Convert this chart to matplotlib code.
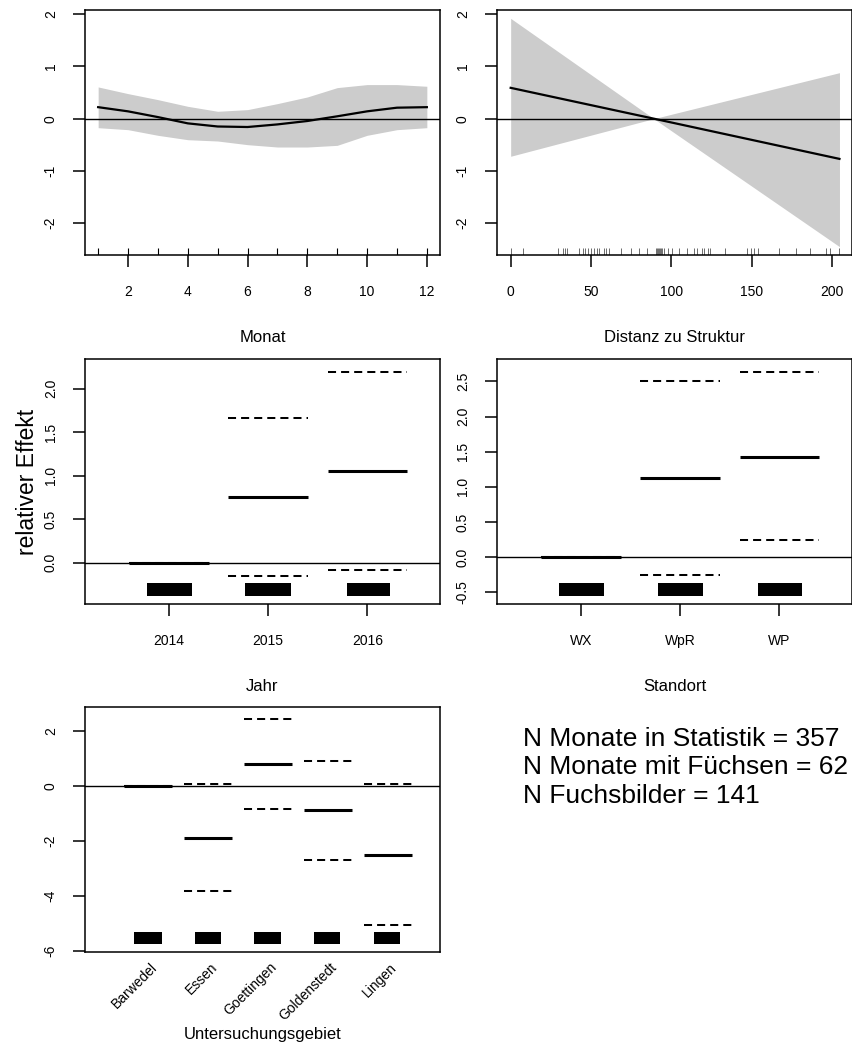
import numpy as np
import matplotlib.pyplot as plt
from matplotlib import transforms

plt.rcParams['font.family'] = ['Liberation Sans', 'DejaVu Sans']
plt.rcParams['axes.unicode_minus'] = False

# --- Monat (smooth term) ---
monat = [1, 2, 3, 4, 5, 6, 7, 8, 9, 10, 11, 12]
monat_fit = [0.22, 0.14, 0.03, -0.09, -0.15, -0.16, -0.11, -0.045, 0.045, 0.14, 0.21, 0.22]
monat_hi = [0.607, 0.479, 0.364, 0.236, 0.141, 0.173, 0.288, 0.415, 0.594, 0.652, 0.652, 0.620]
monat_lo = [-0.173, -0.211, -0.319, -0.403, -0.428, -0.498, -0.543, -0.543, -0.511, -0.319, -0.211, -0.173]

# --- Distanz zu Struktur (linear term) ---
dist_x = [0, 89, 204.5]
dist_fit = [0.59, 0.0, -0.77]
dist_hi = [1.92, 0.0, 0.88]
dist_lo = [-0.72, 0.0, -2.45]
dist_rug = [0, 7.9, 29.2, 32.3, 33.6, 34.8, 42.7, 44.8, 46.4, 48.3, 50.2, 51.8, 53.5,
            55.1, 58.0, 59.5, 61.2, 68.4, 74.6, 79.8, 85.0, 90.2, 90.8, 91.4, 92.0,
            92.7, 93.5, 94.3, 95.6, 98.1, 100.5, 104.7, 109.9, 114.0, 115.7, 118.8,
            120.4, 122.5, 124.0, 133.1, 147.2, 149.7, 151.3, 153.8, 167.1, 177.4,
            186.2, 196.1, 198.6, 204.4]

# --- Jahr (factor) ---
jahr = ['2014', '2015', '2016']
jahr_fit = [0.0, 0.754, 1.05]
jahr_hi = [0.0, 1.658, 2.188]
jahr_lo = [0.0, -0.146, -0.077]
jahr_rug = [
    [-0.2, -0.175, -0.15, -0.125, -0.1, -0.075, -0.05, -0.025, 0.0, 0.025, 0.05, 0.075, 0.1, 0.125, 0.15, 0.175, 0.2],
    [-0.21, -0.165, -0.14, -0.115, -0.09, -0.065, -0.04, -0.015, 0.01, 0.035, 0.06, 0.085, 0.11, 0.135, 0.16, 0.185, 0.2],
    [-0.19, -0.165, -0.14, -0.115, -0.09, -0.055, -0.03, -0.005, 0.03, 0.055, 0.08, 0.11, 0.135, 0.17, 0.195],
]

# --- Standort (factor) ---
standort = ['WX', 'WpR', 'WP']
standort_fit = [0.0, 1.129, 1.429]
standort_hi = [0.0, 2.514, 2.638]
standort_lo = [0.0, -0.252, 0.238]
standort_rug = [
    [-0.2, -0.175, -0.15, -0.125, -0.1, -0.075, -0.05, -0.025, 0.0, 0.025, 0.05, 0.075, 0.1, 0.125, 0.15, 0.175, 0.2],
    [-0.2, -0.175, -0.15, -0.125, -0.1, -0.075, -0.05, -0.025, 0.0, 0.025, 0.05, 0.075, 0.1, 0.125, 0.15, 0.175, 0.2],
    [-0.2, -0.175, -0.15, -0.125, -0.1, -0.075, -0.05, -0.025, 0.0, 0.025, 0.05, 0.075, 0.1, 0.125, 0.15, 0.175, 0.2],
]

# --- Untersuchungsgebiet (factor) ---
gebiet = ['Barwedel', 'Essen', 'Goettingen', 'Goldenstedt', 'Lingen']
gebiet_fit = [0.0, -1.879, 0.812, -0.885, -2.509]
gebiet_hi = [0.0, 0.085, 2.424, 0.921, 0.06]
gebiet_lo = [0.0, -3.818, -0.836, -2.703, -5.067]
gebiet_rug = [
    [-0.2, -0.175, -0.15, -0.125, -0.1, -0.075, -0.05, -0.03, 0.0, 0.025, 0.045, 0.075, 0.1, 0.125, 0.15, 0.175, 0.2],
    [-0.19, -0.165, -0.14, -0.115, -0.09, -0.065, -0.04, -0.015, 0.01, 0.035, 0.06, 0.085, 0.11, 0.135, 0.16, 0.185],
    [-0.2, -0.175, -0.15, -0.125, -0.1, -0.075, -0.05, -0.025, 0.0, 0.025, 0.05, 0.075, 0.1, 0.125, 0.15, 0.175, 0.19],
    [-0.2, -0.175, -0.15, -0.125, -0.1, -0.075, -0.05, -0.025, 0.0, 0.025, 0.05, 0.075, 0.1, 0.135, 0.16, 0.175],
    [-0.19, -0.165, -0.14, -0.115, -0.09, -0.065, -0.04, -0.015, 0.01, 0.035, 0.06, 0.085, 0.11, 0.135, 0.16, 0.175],
]

stats_lines = ['N Monate in Statistik = 357', 'N Monate mit Füchsen = 62', 'N Fuchsbilder = 141']

W, H = 852, 1045
fig = plt.figure(figsize=(W / 100, H / 100), dpi=100)


def make_ax(left, top, width=355, height=245):
    return fig.add_axes([left / W, 1 - (top + height) / H, width / W, height / H])


def style(ax, xlabel):
    for s in ax.spines.values():
        s.set_linewidth(1.1)
    ax.tick_params(axis='both', length=8.6, width=1.1, labelsize=10)
    ax.tick_params(axis='x', pad=13)
    ax.tick_params(axis='y', pad=11, labelrotation=90)
    for t in ax.get_yticklabels():
        t.set_va('center')
    ax.text(0.5, -82 / 245, xlabel, transform=ax.transAxes, ha='center', va='center', fontsize=12)


dash = (0, (4, 2.5))


def factor_panel(ax, levels, fit, hi, lo, rugs, rug_y, xlim, ylim, yticks, xlabel, rotate=False):
    pos = np.arange(1, len(levels) + 1)
    ax.set_xlim(*xlim)
    ax.set_ylim(*ylim)
    ax.axhline(0, color='black', lw=1.0)
    for p, h, l in zip(pos, hi, lo):
        ax.plot([p - 0.4, p + 0.4], [h, h], color='black', lw=1.45, linestyle=dash, dash_capstyle='butt')
        ax.plot([p - 0.4, p + 0.4], [l, l], color='black', lw=1.45, linestyle=dash, dash_capstyle='butt')
    for p, f in zip(pos, fit):
        ax.plot([p - 0.4, p + 0.4], [f, f], color='black', lw=2.2, solid_capstyle='butt')
    for p, offs in zip(pos, rugs):
        ax.vlines([p + o for o in offs], rug_y[0], rug_y[1], color='black',
                  lw=2.4 if not rotate else 1.6, antialiased=False)
    ax.set_yticks(yticks)
    if rotate:
        ax.set_xticks([])
        tr = transforms.offset_copy(ax.get_xaxis_transform(), fig=fig, x=7, y=-13, units='dots')
        for p, lab in zip(pos, levels):
            ax.text(p, 0, lab, transform=tr, rotation=45, ha='right', va='center',
                    rotation_mode='anchor', fontsize=10)
    else:
        ax.set_xticks(pos, levels)
    style(ax, xlabel)


# top left: Monat
ax1 = make_ax(85, 10)
ax1.fill_between(monat, monat_lo, monat_hi, color='#cccccc', lw=0)
ax1.axhline(0, color='black', lw=1.0)
ax1.plot(monat, monat_fit, color='black', lw=1.6)
ax1.vlines(monat, 0, 0.03, transform=ax1.get_xaxis_transform(), color='black', lw=0.8)
ax1.set_xlim(0.56, 12.44)
ax1.set_ylim(-2.61, 2.08)
ax1.set_xticks([2, 4, 6, 8, 10, 12])
ax1.set_yticks([-2, -1, 0, 1, 2])
style(ax1, 'Monat')

# top right: Distanz zu Struktur
ax2 = make_ax(497, 10)
ax2.fill_between(dist_x, dist_lo, dist_hi, color='#cccccc', lw=0)
ax2.axhline(0, color='black', lw=1.0)
ax2.plot(dist_x, dist_fit, color='black', lw=1.6)
ax2.vlines(dist_rug, 0, 0.03, transform=ax2.get_xaxis_transform(), color='#333333', lw=0.5)
ax2.set_xlim(-8.5, 212.3)
ax2.set_ylim(-2.61, 2.08)
ax2.set_xticks([0, 50, 100, 150, 200])
ax2.set_yticks([-2, -1, 0, 1, 2])
style(ax2, 'Distanz zu Struktur')

# middle left: Jahr
ax3 = make_ax(85, 359)
factor_panel(ax3, jahr, jahr_fit, jahr_hi, jahr_lo, jahr_rug, (-0.374, -0.235),
             (0.154, 3.732), (-0.473, 2.341), [0.0, 0.5, 1.0, 1.5, 2.0], 'Jahr')
ax3.yaxis.set_major_formatter(plt.FormatStrFormatter('%.1f'))

# middle right: Standort
ax4 = make_ax(497, 359)
factor_panel(ax4, standort, standort_fit, standort_hi, standort_lo, standort_rug, (-0.543, -0.371),
             (0.154, 3.732), (-0.666, 2.82), [-0.5, 0.0, 0.5, 1.0, 1.5, 2.0, 2.5], 'Standort')
ax4.yaxis.set_major_formatter(plt.FormatStrFormatter('%.1f'))

# bottom left: Untersuchungsgebiet
ax5 = make_ax(85, 707)
factor_panel(ax5, gebiet, gebiet_fit, gebiet_hi, gebiet_lo, gebiet_rug, (-5.758, -5.309),
             (-0.05, 5.87), (-6.036, 2.873), [-6, -4, -2, 0, 2], 'Untersuchungsgebiet', rotate=True)

for ax in (ax3, ax4):
    for t in ax.get_yticklabels():
        t.set_va('center')

fig.text(28 / W, 1 - 482 / H, 'relativer Effekt', rotation=90, ha='center', va='center', fontsize=16.5)

for i, line in enumerate(stats_lines):
    fig.text(523 / W, 1 - (746 + 28.5 * i) / H, line, ha='left', va='baseline', fontsize=19)

fig.savefig('out.png', dpi=100)
